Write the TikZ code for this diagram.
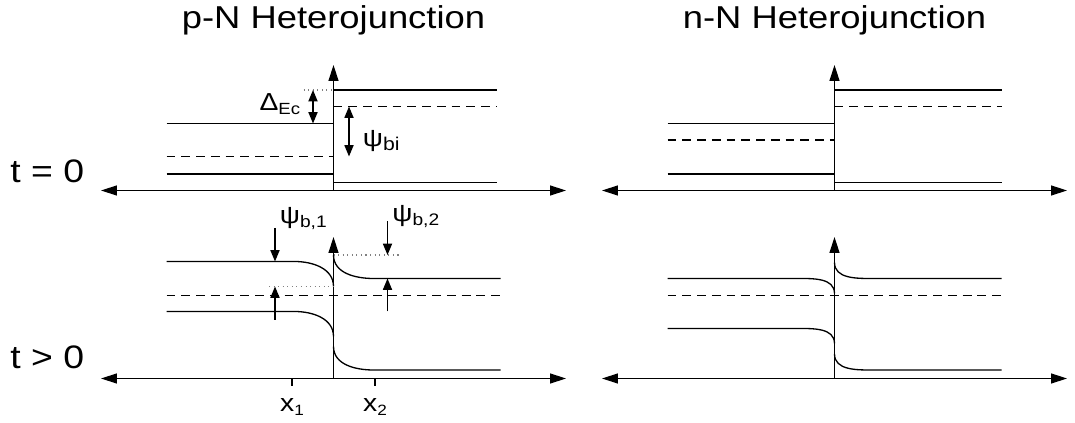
\documentclass[tikz,border=0pt]{standalone}
\usepackage{fontspec}
\setmainfont{Liberation Sans}[FakeStretch=1.15]
\usetikzlibrary{arrows.meta}

% lowered small text for the subscripts
\newcommand{\subtxt}[2][9.5]{\raisebox{-2.2pt}{\fontsize{#1}{#1}\selectfont #2}}

\begin{document}
\begin{tikzpicture}[
    every node/.style={inner sep=0pt},
    axis/.style={line width=0.9pt, -{Triangle[length=9pt,width=5.6pt]}},
    xaxis/.style={line width=0.9pt, {Triangle[length=9pt,width=5.6pt]}-{Triangle[length=9pt,width=5.6pt]}},
    band/.style={line width=0.75pt},
    fermi/.style={line width=0.75pt, dash pattern=on 5pt off 3.4pt},
    guide/.style={gray, line width=0.6pt, dotted},
    meas/.style={line width=0.75pt, -{Triangle[length=6.5pt,width=5.2pt]}},
    measboth/.style={line width=0.75pt, {Triangle[length=6.5pt,width=5.2pt]}-{Triangle[length=6.5pt,width=5.2pt]}},
    heading/.style={font=\fontsize{18}{20}\selectfont, anchor=base},
    rowlabel/.style={font=\fontsize{18.5}{20}\selectfont, anchor=base west},
    lbl/.style={font=\fontsize{14}{16}\selectfont},
]
\useasboundingbox (0,0) rectangle (21.5,8.46);

% row labels
\node[rowlabel] (tzero) at (0.2,4.81) {t = 0};
\node[rowlabel] (tlater) at (0.2,1.09) {t > 0};

% =====================================================================
% LEFT: p-N heterojunction
% =====================================================================
\begin{scope}[xshift=6.67cm]
\node[heading] (pNtitle) at (0,7.89) {p-N Heterojunction};

% --- t = 0: flat bands ---
\draw[xaxis] (-4.65,4.65) -- (4.65,4.65);
\draw[axis] (0,4.65) -- (0,7.16);
\draw[band] (-3.34,5.99) -- (0,5.99);
\draw[fermi] (-3.34,5.33) -- (0,5.33);
\draw[band] (-3.34,4.98) -- (0,4.98);
\draw[band] (0,6.66) -- (3.27,6.66);
\draw[fermi] (0,6.33) -- (3.27,6.33);
\draw[band] (0,4.81) -- (3.27,4.81);

% band offset and built-in potential
\draw[guide] (-0.6,6.66) -- (0,6.66);
\draw[measboth] (-0.41,6.66) -- (-0.41,5.99);
\node[lbl, anchor=base east] (dEc) at (-0.66,6.25) {Δ\subtxt[9.2]{Ec}};
\draw[measboth] (0.31,6.33) -- (0.31,5.33);
\node[lbl, anchor=base west] (psibi) at (0.58,5.52) {ψ\subtxt[10.5]{bi}};

% --- t > 0: bent bands ---
\draw[xaxis] (-4.65,0.89) -- (4.65,0.89);
\draw[axis] (0,0.89) -- (0,3.72);
\draw[band] (-3.34,3.23) -- (-0.78,3.23) to[out=0,in=90] (0,2.73);
\draw[band] (-3.34,2.23) -- (-0.78,2.23) to[out=0,in=90] (0,1.73);
\draw[fermi] (-3.34,2.55) -- (3.34,2.55);
\draw[band] (0,3.36) to[out=270,in=180] (0.8,2.89) -- (3.34,2.89);
\draw[band] (0,1.53) to[out=270,in=180] (0.8,1.06) -- (3.34,1.06);

% band bending on both sides
\draw[guide] (-1.29,2.73) -- (0,2.73);
\draw[guide] (0,3.36) -- (1.37,3.36);
\draw[meas] (-1.17,3.9) -- (-1.17,3.23);
\draw[meas] (-1.17,2.06) -- (-1.17,2.73);
\node[lbl, anchor=base west] (psib1) at (-1.08,3.98) {ψ\subtxt{b,1}};
\draw[meas] (1.08,4.03) -- (1.08,3.36);
\draw[meas] (1.08,2.23) -- (1.08,2.89);
\node[lbl, anchor=base west] (psib2) at (1.17,4.02) {ψ\subtxt{b,2}};

% depletion edges
\draw[band] (-0.83,0.89) -- (-0.83,0.73);
\draw[band] (0.83,0.89) -- (0.83,0.73);
\node[lbl, anchor=base] (xone) at (-0.83,0.23) {x\subtxt[8.5]{1}};
\node[lbl, anchor=base] (xtwo) at (0.83,0.23) {x\subtxt[8.5]{2}};
\end{scope}

% =====================================================================
% RIGHT: n-N heterojunction
% =====================================================================
\begin{scope}[xshift=16.69cm]
\node[heading] (nNtitle) at (0,7.89) {n-N Heterojunction};

% --- t = 0 ---
\draw[xaxis] (-4.65,4.65) -- (4.65,4.65);
\draw[axis] (0,4.65) -- (0,7.16);
\draw[band] (-3.34,5.99) -- (0,5.99);
\draw[fermi] (-3.34,5.66) -- (0,5.66);
\draw[band] (-3.34,4.98) -- (0,4.98);
\draw[band] (0,6.66) -- (3.34,6.66);
\draw[fermi] (0,6.33) -- (3.34,6.33);
\draw[band] (0,4.81) -- (3.34,4.81);

% --- t > 0 ---
\draw[xaxis] (-4.65,0.89) -- (4.65,0.89);
\draw[axis] (0,0.89) -- (0,3.72);
\draw[band] (-3.34,2.89) -- (-0.75,2.89) to[out=0,in=90] (0,2.59);
\draw[band] (-3.34,1.89) -- (-0.75,1.89) to[out=0,in=90] (0,1.59);
\draw[fermi] (-3.34,2.55) -- (3.34,2.55);
\draw[band] (0,3.21) to[out=270,in=180] (0.78,2.89) -- (3.34,2.89);
\draw[band] (0,1.38) to[out=270,in=180] (0.78,1.06) -- (3.34,1.06);
\end{scope}

\end{tikzpicture}
\end{document}
